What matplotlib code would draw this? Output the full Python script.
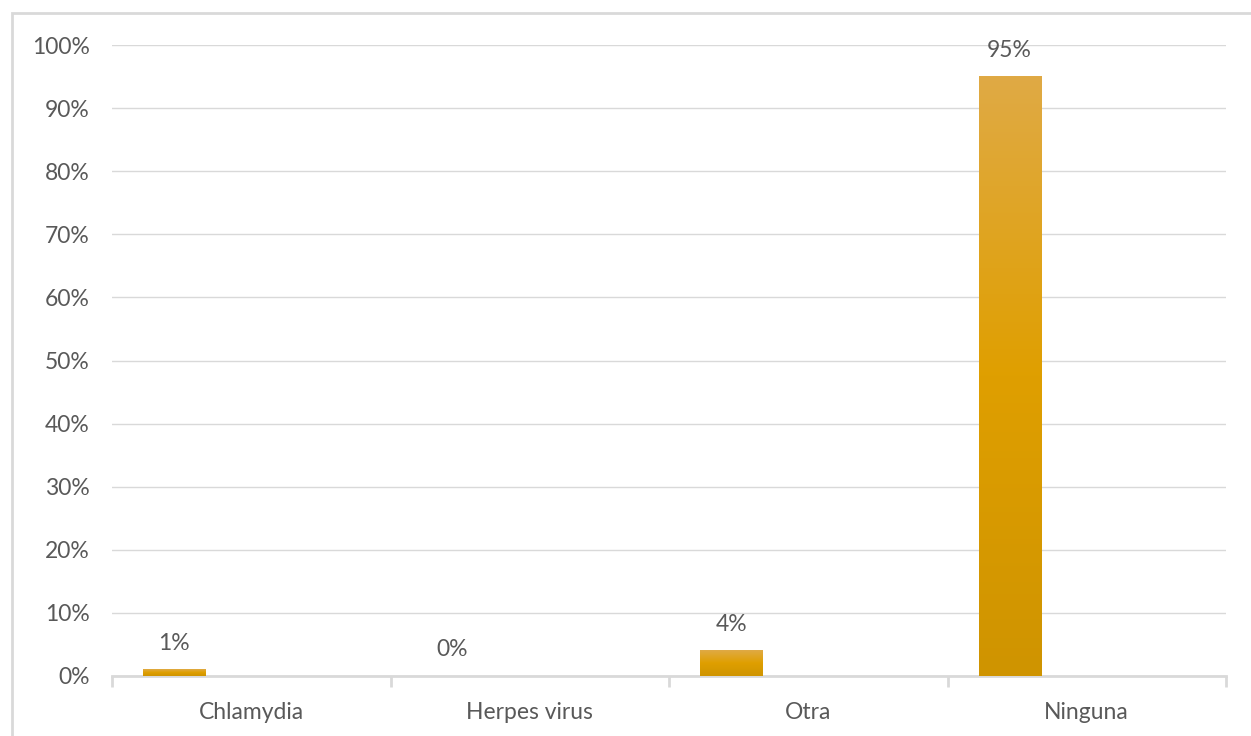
import numpy as np
import matplotlib
matplotlib.use("Agg")
import matplotlib.pyplot as plt
from matplotlib.colors import LinearSegmentedColormap
from matplotlib.patches import Rectangle
from matplotlib.ticker import PercentFormatter

categories = ["Chlamydia", "Herpes virus", "Otra", "Ninguna"]
values = [1, 0, 4, 95]

plt.rcParams["font.family"] = ["Lato", "DejaVu Sans"]
text_color = "#595959"
grid_color = "#D9D9D9"
fs = 16.5

fig = plt.figure(figsize=(12.51, 7.36), dpi=100)
W, H = 1251, 736
ax = fig.add_axes([112 / W, 1 - 676 / H, (1226 - 112) / W, (676 - 45) / H])

# outer chart frame
fig.patches.append(Rectangle((12 / W, -0.1), 1.2, 1 - 13 / H + 0.1,
                             transform=fig.transFigure, fill=False,
                             edgecolor=grid_color, linewidth=2, zorder=0))

# bars sit left of each category centre, like a clustered column chart
offset = -0.277
width = 0.223
x = np.arange(len(categories))
bars = ax.bar(x + offset, values, width=width, color="none", zorder=3)

grad = LinearSegmentedColormap.from_list(
    "gold", ["#CF9400", "#DF9F00", "#E0AA45"])
img = np.linspace(0, 1, 256).reshape(-1, 1)
for b in bars:
    h = b.get_height()
    if h <= 0:
        continue
    # soft shadow
    ax.add_patch(Rectangle((b.get_x() + 0.004, 0), b.get_width(), h + 0.15,
                           facecolor="#000000", alpha=0.08, zorder=2,
                           linewidth=0))
    ax.imshow(img, cmap=grad, aspect="auto", origin="lower",
              extent=(b.get_x(), b.get_x() + b.get_width(), 0, h),
              zorder=3)

for xi, v in zip(x, values):
    ax.text(xi + offset, v + 2.5, f"{v}%", ha="center", va="bottom",
            fontsize=fs, color=text_color)

ax.set_xlim(-0.5, len(categories) - 0.5)
ax.set_ylim(0, 100)
ax.set_yticks(np.arange(0, 101, 10))
ax.yaxis.set_major_formatter(PercentFormatter(decimals=0))
ax.set_xticks(x)
ax.set_xticklabels(categories)
ax.set_xticks(np.arange(-0.5, len(categories)), minor=True)

ax.grid(axis="y", color=grid_color, linewidth=1, zorder=0)
ax.set_axisbelow(True)
for s in ["top", "right", "left"]:
    ax.spines[s].set_visible(False)
ax.spines["bottom"].set_color(grid_color)
ax.spines["bottom"].set_linewidth(2)

ax.tick_params(axis="y", length=0, pad=16, labelsize=fs, labelcolor=text_color)
ax.tick_params(axis="x", which="major", length=0, pad=19, labelsize=fs,
               labelcolor=text_color)
ax.tick_params(axis="x", which="minor", length=8, width=2, color=grid_color)

fig.savefig("out.png", dpi=100)
